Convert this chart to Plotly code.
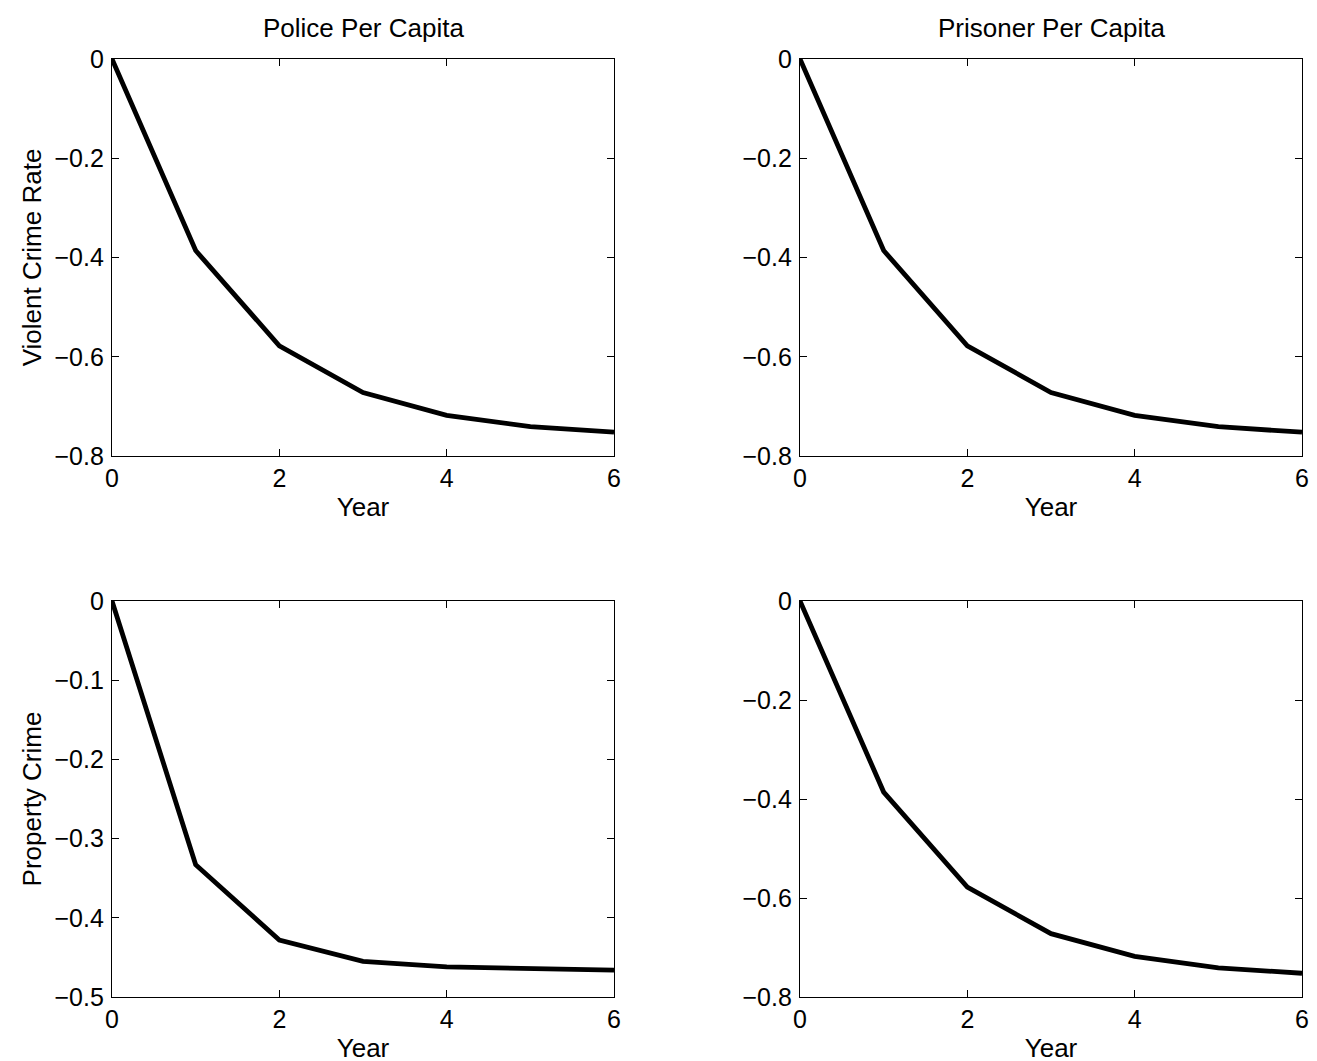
import plotly.graph_objects as go

years = [0, 1, 2, 3, 4, 5, 6]
violent_police = [0, -0.386, -0.578, -0.672, -0.718, -0.741, -0.752]
violent_prisoner = [0, -0.386, -0.578, -0.672, -0.718, -0.741, -0.752]
property_police = [0, -0.333, -0.428, -0.455, -0.462, -0.464, -0.466]
property_prisoner = [0, -0.386, -0.578, -0.672, -0.718, -0.741, -0.752]

titles = ["Police Per Capita", "Prisoner Per Capita"]
ylabels = ["Violent Crime Rate", "Property Crime"]
x_ticks = [0, 2, 4, 6]

W, H = 1317, 1061
FONT = "Liberation Sans, Arial, Helvetica, sans-serif"
FS = 25
TFS = 26

xdoms = [[104 / W, 606 / W], [792 / W, 1294 / W]]
ydoms = [[1 - 448 / H, 1 - 51 / H], [1 - 989 / H, 1 - 593 / H]]

panels = [
    (0, 0, violent_police, [-0.8, 0], [0, -0.2, -0.4, -0.6, -0.8]),
    (0, 1, violent_prisoner, [-0.8, 0], [0, -0.2, -0.4, -0.6, -0.8]),
    (1, 0, property_police, [-0.5, 0], [0, -0.1, -0.2, -0.3, -0.4, -0.5]),
    (1, 1, property_prisoner, [-0.8, 0], [0, -0.2, -0.4, -0.6, -0.8]),
]

fig = go.Figure()
layout = {}
for i, (r, c, vals, yr, yt) in enumerate(panels):
    n = i + 1
    xa = "x" if n == 1 else f"x{n}"
    ya = "y" if n == 1 else f"y{n}"
    fig.add_trace(go.Scatter(x=years, y=vals, mode="lines",
                             line=dict(color="black", width=4.8),
                             xaxis=xa, yaxis=ya, showlegend=False,
                             cliponaxis=True))
    common = dict(showline=True, linecolor="black", linewidth=1.3, mirror="allticks",
                  ticks="inside", ticklen=7, tickwidth=1, tickcolor="black",
                  showgrid=False, zeroline=False, automargin=False,
                  tickfont=dict(family=FONT, size=FS, color="black"))
    layout["xaxis" if n == 1 else f"xaxis{n}"] = dict(
        common, domain=xdoms[c], range=[0, 6], tickvals=x_ticks,
        anchor=ya, ticklabelstandoff=0,
        title=dict(text="Year", font=dict(family=FONT, size=TFS, color="black"), standoff=6))
    ydict = dict(common, domain=ydoms[r], range=yr, tickvals=yt,
                 ticktext=[("0" if v == 0 else f"\u2212{abs(v):g}") for v in yt],
                 anchor=xa, ticklabelstandoff=2)
    if c == 0:
        ydict["title"] = dict(text=ylabels[r], font=dict(family=FONT, size=TFS, color="black"), standoff=5)
    layout["yaxis" if n == 1 else f"yaxis{n}"] = ydict

annotations = []
for c in range(2):
    annotations.append(dict(text=titles[c], xref="paper", yref="paper",
                            x=(xdoms[c][0] + xdoms[c][1]) / 2, y=ydoms[0][1],
                            xanchor="center", yanchor="bottom", yshift=14, showarrow=False,
                            font=dict(family=FONT, size=TFS, color="black")))

fig.update_layout(**layout)
fig.update_layout(template="none", width=W, height=H, margin=dict(l=0, r=0, t=0, b=0, autoexpand=False),
                  paper_bgcolor="white", plot_bgcolor="white",
                  annotations=annotations)
fig.write_html("out.html")
